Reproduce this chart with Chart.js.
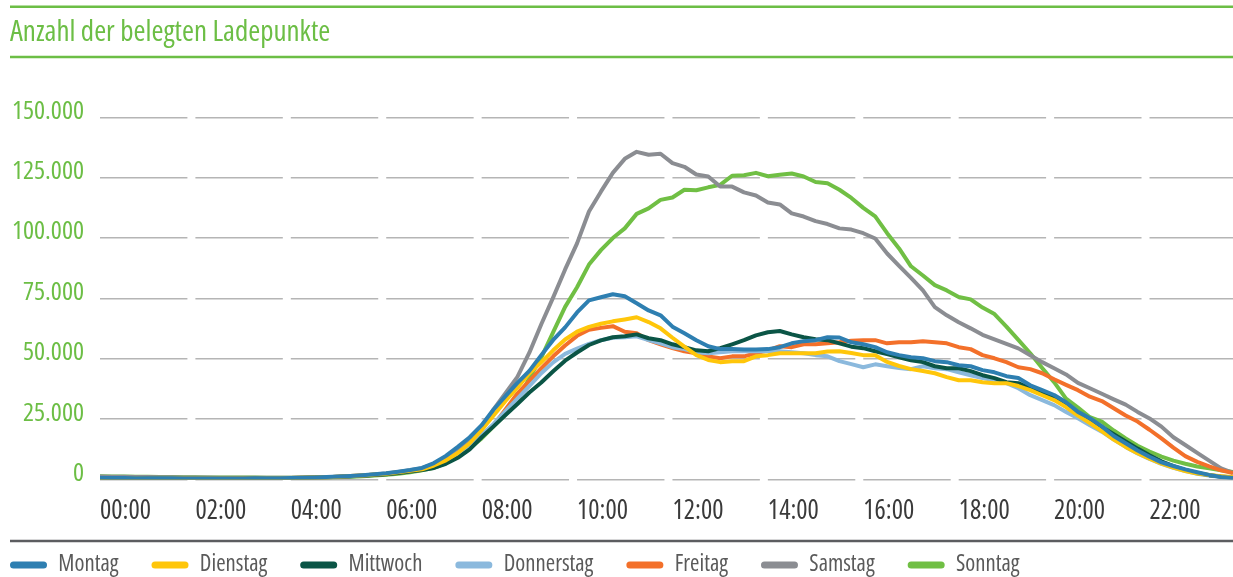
<!DOCTYPE html>
<html lang="de">
<head>
<meta charset="utf-8">
<title>Anzahl der belegten Ladepunkte</title>
<script src="https://cdn.jsdelivr.net/npm/chart.js@4.4.1/dist/chart.umd.min.js"></script>
<style>
  html, body { margin: 0; padding: 0; background: #ffffff; }
  #wrap { width: 1233px; height: 577px; position: relative; }
</style>
</head>
<body>
<div id="wrap"><canvas id="chart" width="1233" height="577"></canvas></div>
<script>
// Time of day in 15-minute steps (category axis)
const times = Array.from({ length: 96 }, (_, i) =>
  String(Math.floor(i / 4)).padStart(2, '0') + ':' + String((i % 4) * 15).padStart(2, '0'));

const seriesNames = ['Montag', 'Dienstag', 'Mittwoch', 'Donnerstag', 'Freitag', 'Samstag', 'Sonntag'];

const montag = [
  700, 650, 600, 560, 520, 490, 470, 450, 440, 430, 430, 440, 460, 480, 510, 550, 620, 720, 850, 1000, 1200, 1450, 1750, 2150,
  2600, 3200, 3900, 4800, 6800, 9800, 13500, 17500, 22500, 29000, 34500, 40000, 45000, 51500, 57800, 63000,
  69200, 74200, 75500, 76700, 75900, 73000, 70000, 68000, 63300, 60600, 57700, 55200, 54000, 54000, 53800, 53800,
  54000, 54800, 56400, 57300, 57700, 58900, 58800, 56800, 56000, 54800, 52700, 51500, 50600, 50200, 49000, 48600,
  47300, 46900, 45300, 44400, 42800, 42000, 39000, 37000, 35000, 32000, 28000, 25400, 22000, 18000, 15000, 12000,
  9400, 7100, 5600, 4200, 3000, 1900, 1000, 600
];
const dienstag = [
  600, 560, 520, 490, 460, 440, 420, 410, 400, 400, 400, 410, 430, 450, 480, 520, 590, 680, 800, 950, 1150, 1400, 1700, 2050,
  2400, 3000, 3600, 4200, 5800, 7900, 11000, 15000, 20500, 26500, 32500, 38000, 44000, 48500, 53500, 58000,
  61200, 63200, 64500, 65500, 66300, 67200, 65200, 62600, 58700, 55000, 51500, 49500, 48600, 49000, 49000, 51000,
  51500, 52300, 52300, 52300, 52300, 53000, 53100, 52400, 51500, 51500, 48700, 47000, 45700, 44900, 44000, 42400,
  41100, 41100, 40300, 39900, 39900, 38700, 37000, 34900, 32900, 30000, 26500, 23400, 20000, 16500, 13500, 10900,
  8600, 6600, 4900, 3500, 2500, 1900, 1400, 1000
];
const mittwoch = [
  650, 600, 560, 520, 490, 470, 450, 440, 430, 420, 420, 430, 450, 470, 500, 540, 600, 690, 800, 930, 1100, 1350, 1600, 1900,
  2200, 2700, 3300, 3900, 4800, 6500, 9000, 12500, 17500, 22000, 26700, 31300, 36000, 40200, 44800, 49200,
  52600, 55700, 57600, 58900, 59300, 60100, 58500, 57700, 56000, 54800, 53500, 53100, 54400, 56000, 57700, 59700,
  61000, 61500, 60100, 58900, 58100, 57700, 56400, 55000, 54400, 53100, 51900, 50600, 49400, 48600, 46900, 46100,
  46100, 44900, 43200, 42000, 40300, 39900, 37800, 35800, 33700, 31400, 27700, 24600, 21800, 18800, 15800, 12800,
  10000, 7500, 5500, 4000, 2700, 1800, 1200, 800
];
const donnerstag = [
  680, 630, 580, 540, 510, 480, 460, 450, 440, 430, 430, 440, 460, 480, 510, 550, 610, 700, 820, 960, 1150, 1400, 1700, 2050,
  2400, 2900, 3500, 4200, 5400, 7300, 10000, 13800, 18400, 23000, 28300, 33500, 38700, 44000, 48500, 52000,
  54200, 56200, 57700, 58700, 58900, 59300, 57700, 56400, 54800, 54000, 52700, 52300, 52700, 53100, 53100, 53100,
  53100, 53100, 52700, 52300, 51500, 51000, 49000, 47800, 46500, 47700, 46900, 46200, 45700, 46900, 46100, 45700,
  44400, 43200, 42000, 41100, 39900, 37800, 34900, 32900, 30800, 28000, 25400, 22500, 19800, 16500, 13500, 10800,
  8500, 6500, 4800, 3500, 2400, 1600, 1100, 700
];
const freitag = [
  700, 650, 600, 560, 520, 490, 470, 460, 450, 440, 440, 450, 470, 490, 520, 560, 620, 710, 830, 970, 1150, 1400, 1700, 2000,
  2300, 2800, 3400, 4100, 5500, 7500, 10500, 14200, 18500, 22500, 29000, 35600, 40800, 46000, 51000, 55500,
  59500, 62000, 62800, 63500, 61200, 60600, 57700, 56000, 54400, 53100, 52300, 51000, 50200, 51000, 51000, 52300,
  53500, 55200, 54800, 56000, 56000, 56400, 56800, 57500, 57700, 57700, 56400, 56800, 56800, 57300, 56800, 56400,
  54800, 54000, 51500, 50200, 48600, 46500, 45700, 44000, 41500, 39200, 37000, 34300, 32500, 29500, 26500, 24000,
  20600, 17000, 13200, 9700, 7300, 5400, 3800, 2700
];
const samstag = [
  1200, 1150, 1100, 1050, 1000, 950, 900, 860, 820, 790, 760, 740, 720, 710, 700, 700, 720, 760, 820, 900, 1050, 1300, 1650, 2050,
  2500, 3100, 3800, 4700, 6500, 9200, 12800, 16800, 21000, 29000, 35800, 42500, 52500, 64300, 75400, 87000,
  97800, 111000, 119200, 127000, 132800, 135700, 134500, 134900, 131000, 129500, 126300, 125500, 121300, 121300, 118900, 117600,
  114700, 113900, 110200, 108900, 107000, 105800, 104000, 103500, 102000, 99800, 93600, 88500, 83500, 78300, 71400, 68000,
  65100, 62600, 59900, 58000, 56200, 54300, 51500, 48600, 46100, 43500, 40000, 37800, 35500, 33200, 31000, 28000,
  25300, 21900, 17500, 14300, 11000, 7800, 4600, 2700
];
const sonntag = [
  1300, 1250, 1200, 1150, 1100, 1050, 1000, 960, 920, 880, 850, 820, 800, 780, 760, 750, 750, 770, 800, 860, 950, 1100, 1350, 1650,
  2000, 2400, 3000, 3800, 4800, 6800, 9500, 13000, 17000, 22000, 27000, 32500, 42000, 50500, 61000, 71500,
  79600, 89000, 95000, 100000, 104000, 110000, 112300, 115800, 116800, 120000, 119800, 121000, 122000, 125800, 126000, 127000,
  125600, 126200, 126700, 125500, 123200, 122700, 120000, 116600, 112500, 109000, 102000, 95700, 88300, 84500, 80500, 78300,
  75600, 74600, 71200, 68500, 63300, 57800, 52300, 46200, 40300, 33500, 29800, 25800, 24000, 20300, 17000, 14000,
  11600, 9500, 7800, 6500, 5400, 4600, 3800, 3100
];

const seriesValues = [montag, dienstag, mittwoch, donnerstag, freitag, samstag, sonntag];
const seriesColors = ['#2e7fb1', '#ffc60a', '#0b5546', '#8bb9dd', '#f3702a', '#8b8d92', '#70bf44'];

const yTicks = [0, 25000, 50000, 75000, 100000, 125000, 150000];

const GREEN = '#6cbe45';
const FAMILY = "'Open Sans', 'Roboto Condensed', sans-serif";
const NARROW = '400 condensed';   // weight + font-stretch in the canvas font shorthand

function formatThousands(v) {
  return String(v).replace(/\B(?=(\d{3})+(?!\d))/g, '.');
}

// Rules above and below the heading and above the legend
const frameLines = {
  id: 'frameLines',
  afterDraw(chart) {
    const ctx = chart.ctx;
    ctx.save();
    ctx.lineWidth = 2.5;
    ctx.strokeStyle = GREEN;
    ctx.beginPath();
    ctx.moveTo(10, 6.7); ctx.lineTo(chart.width, 6.7);
    ctx.moveTo(10, 57); ctx.lineTo(chart.width, 57);
    ctx.stroke();
    ctx.strokeStyle = '#5c5d60';
    ctx.beginPath();
    ctx.moveTo(10, 541); ctx.lineTo(chart.width, 541);
    ctx.stroke();
    ctx.restore();
  }
};

// Place the legend row at the left edge, centred on y = 565
const LEGEND_FONT_SIZE = 22.7;
const legendPlacement = {
  id: 'legendPlacement',
  afterLayout(chart) {
    const lg = chart.legend;
    if (!lg) return;
    const pad = chart.options.plugins.legend.labels.padding;
    const dx = 10 - pad - lg.left;
    lg.left += dx; lg.right += dx;
    lg.top = 565 - LEGEND_FONT_SIZE / 2 - pad;
    lg.bottom = chart.height;
  }
};

const datasets = seriesNames.map((name, i) => ({
  label: name,
  data: seriesValues[i],
  borderColor: seriesColors[i],
  backgroundColor: seriesColors[i],
  borderWidth: 4,
  pointRadius: 0,
  pointHoverRadius: 0,
  tension: 0,
  fill: false,
  borderJoinStyle: 'round'
}));

new Chart(document.getElementById('chart'), {
  type: 'line',
  data: { labels: times, datasets },
  plugins: [frameLines, legendPlacement],
  options: {
    responsive: false,
    devicePixelRatio: 1,
    animation: false,
    events: [],
    layout: { autoPadding: false, padding: { left: 10, right: 0, top: 0, bottom: 0 } },
    scales: {
      x: {
        type: 'category',
        offset: false,
        grid: { display: false, drawTicks: false },
        border: { display: false },
        ticks: {
          autoSkip: false,
          maxRotation: 0,
          minRotation: 0,
          align: 'start',
          padding: 16,
          color: '#3a3a3a',
          font: { family: FAMILY, weight: NARROW, size: 26.5 },
          callback(value, index) { return index % 8 === 0 ? this.getLabelForValue(value) : ''; }
        },
        afterFit(scale) {
          scale.height = 45;
          scale.paddingLeft = 0;
          scale.paddingRight = 0;
        }
      },
      y: {
        min: 0,
        max: 150000,
        afterBuildTicks(scale) { scale.ticks = yTicks.map(v => ({ value: v })); },
        ticks: {
          padding: 16,
          labelOffset: -6,
          color: GREEN,
          font: { family: FAMILY, weight: NARROW, size: 26 },
          callback: v => formatThousands(v)
        },
        grid: { color: '#b5b5b5', lineWidth: 1.5, drawTicks: false },
        border: { display: false, dash: [87.41, 8], dashOffset: 0 },
        afterFit(scale) {
          scale.width = 90;
          scale.paddingTop = 0;
          scale.paddingBottom = 0;
        }
      }
    },
    plugins: {
      tooltip: { enabled: false },
      title: {
        display: true,
        text: 'Anzahl der belegten Ladepunkte',
        align: 'start',
        color: GREEN,
        font: { family: FAMILY, weight: NARROW, size: 29 },
        padding: { top: 15.5, bottom: 67 }
      },
      legend: {
        display: true,
        position: 'bottom',
        align: 'start',
        maxHeight: 52.5,
        labels: {
          color: '#5a5a5a',
          font: { family: FAMILY, weight: NARROW, size: LEGEND_FONT_SIZE },
          boxWidth: 37,
          boxHeight: 7,
          padding: 33,
          useBorderRadius: true,
          borderRadius: 3.5,
          generateLabels(chart) {
            return Chart.defaults.plugins.legend.labels.generateLabels(chart).map(item => ({
              ...item,
              fillStyle: item.strokeStyle,
              lineWidth: 0,
              borderRadius: 3.5
            }));
          }
        }
      }
    }
  }
});
</script>
</body>
</html>
